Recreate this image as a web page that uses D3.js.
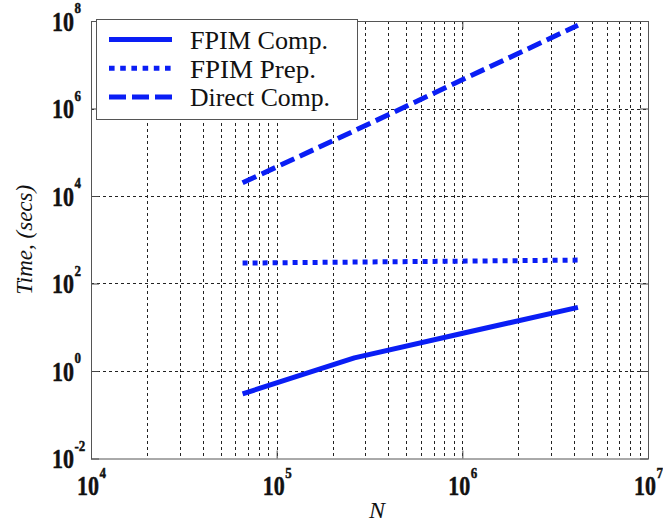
<!DOCTYPE html>
<html>
<head>
<meta charset="utf-8">
<script src="https://cdn.jsdelivr.net/npm/d3@7"></script>
<style>
  html, body { margin: 0; padding: 0; background: #fff; }
  svg { display: block; }
</style>
</head>
<body>
<div id="chart"></div>
<script>
// Problem sizes (N) and timings in seconds
const sizes = [65536, 262144, 1048576, 4194304];
const fpimComp = [0.30, 2.0, 7.6, 28.5];
const fpimPrep = [293, 309, 325, 343];
const directComp = [2.0e4, 3.1e5, 5.0e6, 8.0e7];

const seriesNames = ["FPIM Comp.", "FPIM Prep.", "Direct Comp."];
const xTickExps = [4, 5, 6, 7];
const yTickExps = [-2, 0, 2, 4, 6, 8];

const W = 663, H = 527;
const plot = { left: 91, right: 648, top: 21, bottom: 458.5 };
const blue = "#0a1ef5";

const svg = d3.select("#chart").append("svg")
  .attr("width", W).attr("height", H);

const x = d3.scaleLog().domain([1e4, 1e7]).range([plot.left, plot.right]);
const y = d3.scaleLog().domain([1e-2, 1e8]).range([plot.bottom, plot.top]);

// Minor x grid values: 2..9 times each decade, plus interior decades
const xGridVals = [];
for (let e = 4; e < 7; e++) {
  for (let m = 1; m <= 9; m++) {
    const v = m * Math.pow(10, e);
    if (v > 1e4 && v < 1e7) xGridVals.push(v);
  }
}
const yGridVals = [1e0, 1e2, 1e4, 1e6];

const grid = svg.append("g")
  .attr("stroke", "#222").attr("stroke-width", 1)
  .attr("stroke-dasharray", "3,3").attr("fill", "none");

grid.selectAll("line.vx").data(xGridVals).join("line")
  .attr("x1", d => Math.round(x(d)) + 0.5).attr("x2", d => Math.round(x(d)) + 0.5)
  .attr("y1", plot.top).attr("y2", plot.bottom);

grid.selectAll("line.hy").data(yGridVals).join("line")
  .attr("x1", plot.left).attr("x2", plot.right)
  .attr("y1", d => Math.round(y(d)) + 0.5).attr("y2", d => Math.round(y(d)) + 0.5);

// Axes with inward ticks, mirrored on top and right
const xTickVals = xTickExps.map(e => Math.pow(10, e));
const yTickVals = yTickExps.map(e => Math.pow(10, e));

function styleAxis(g) {
  g.selectAll("text").remove();
  g.select(".domain").remove();
  g.selectAll("line").attr("stroke", "#444");
}

svg.append("g").attr("transform", `translate(0,${plot.bottom})`)
  .call(d3.axisBottom(x).tickValues(xTickVals).tickSize(-8).tickFormat(""))
  .call(styleAxis);
svg.append("g").attr("transform", `translate(0,${plot.top})`)
  .call(d3.axisTop(x).tickValues(xTickVals).tickSize(-8).tickFormat(""))
  .call(styleAxis);
svg.append("g").attr("transform", `translate(${plot.left},0)`)
  .call(d3.axisLeft(y).tickValues(yTickVals).tickSize(-8).tickFormat(""))
  .call(styleAxis);
svg.append("g").attr("transform", `translate(${plot.right},0)`)
  .call(d3.axisRight(y).tickValues(yTickVals).tickSize(-8).tickFormat(""))
  .call(styleAxis);

// Frame
svg.append("rect")
  .attr("x", plot.left + 0.5).attr("y", plot.top + 0.5)
  .attr("width", plot.right - plot.left).attr("height", plot.bottom - plot.top)
  .attr("fill", "none").attr("stroke", "#555").attr("stroke-width", 1);

// Power-of-ten tick labels
function powerLabel(g, px, py, exp) {
  const t = g.append("text")
    .attr("transform", `translate(${px},${py}) scale(1,1.2)`)
    .attr("font-family", "'Liberation Serif', 'DejaVu Serif', serif")
    .attr("font-weight", "bold").attr("fill", "#111")
    .attr("stroke", "#111").attr("stroke-width", 0.4);
  t.append("tspan").attr("font-size", 22).text("10");
  t.append("tspan").attr("font-size", 13).attr("dx", 0.5).attr("dy", -14.5).text(exp);
}
const labels = svg.append("g");
xTickExps.forEach(e => powerLabel(labels, x(Math.pow(10, e)) - 14, 495, e));
yTickExps.forEach(e => powerLabel(labels, 52, y(Math.pow(10, e)) + 9.5, e));

// Axis titles
svg.append("text")
  .attr("transform", `translate(32,${(plot.top + plot.bottom) / 2}) rotate(-90)`)
  .attr("text-anchor", "middle")
  .attr("font-family", "'Liberation Serif', serif").attr("font-style", "italic")
  .attr("font-size", 23).attr("fill", "#111")
  .text("Time, (secs)");
svg.append("text")
  .attr("x", 377).attr("y", 518).attr("text-anchor", "middle")
  .attr("font-family", "'Liberation Serif', serif").attr("font-style", "italic")
  .attr("font-size", 24).attr("fill", "#111")
  .text("N");

// Series lines
const line = d3.line().x(d => x(d[0])).y(d => y(d[1]));
const series = [
  { name: seriesNames[0], values: fpimComp, dash: null },
  { name: seriesNames[1], values: fpimPrep, dash: "5,5" },
  { name: seriesNames[2], values: directComp, dash: "15,6" }
];

svg.append("g").selectAll("path").data(series).join("path")
  .attr("d", s => line(sizes.map((n, i) => [n, s.values[i]])))
  .attr("fill", "none").attr("stroke", blue).attr("stroke-width", 5)
  .attr("stroke-linecap", "butt").attr("stroke-linejoin", "round")
  .attr("stroke-dasharray", d => d.dash);

// Legend
const legendWidths = [138, 126, 140];
const leg = svg.append("g");
leg.append("rect").attr("x", 96.5).attr("y", 19.5).attr("width", 261).attr("height", 100)
  .attr("fill", "#fff").attr("stroke", "#555").attr("stroke-width", 1);
series.forEach((s, i) => {
  const ly = 39.5 + i * 28.7;
  leg.append("line").attr("x1", 109).attr("x2", 172).attr("y1", ly).attr("y2", ly)
    .attr("stroke", blue).attr("stroke-width", 5)
    .attr("stroke-dasharray", i === 1 ? "5.6,5.6" : (i === 2 ? "17,6" : null));
  leg.append("text").attr("x", 190).attr("y", ly + 9.5)
    .attr("font-family", "'Liberation Serif', serif").attr("font-size", 25)
    .attr("textLength", legendWidths[i]).attr("lengthAdjust", "spacingAndGlyphs")
    .attr("fill", "#111").text(s.name);
});
</script>
</body>
</html>
